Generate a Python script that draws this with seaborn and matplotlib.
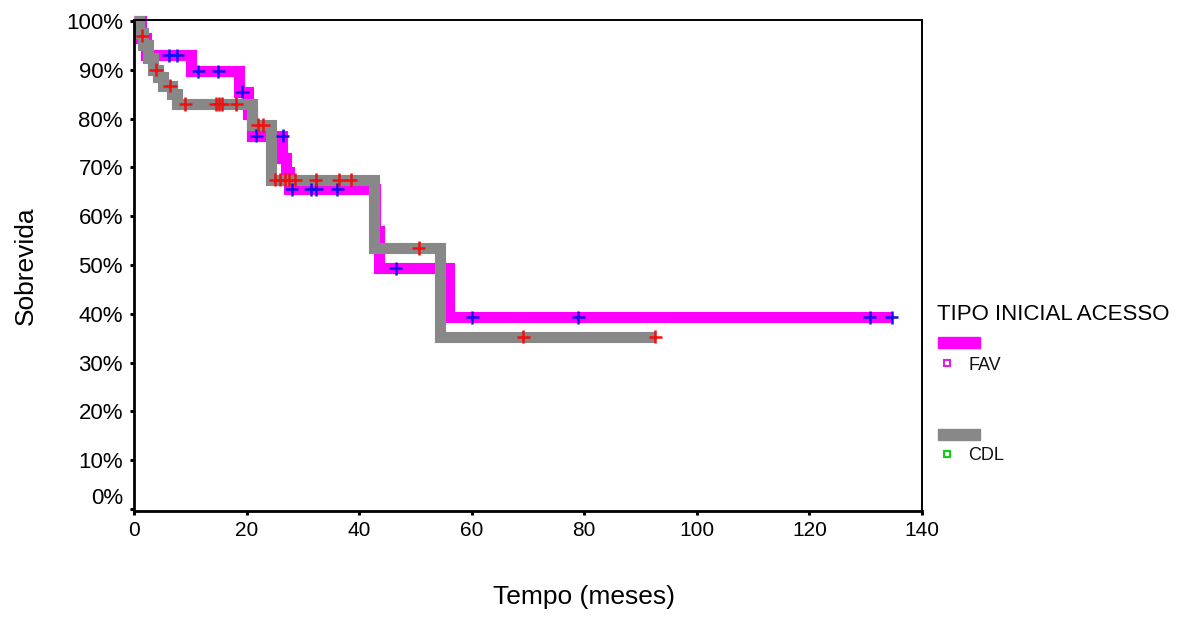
import matplotlib
matplotlib.use("Agg")
import matplotlib.pyplot as plt
from matplotlib.patches import Rectangle
from matplotlib.lines import Line2D
from matplotlib.ticker import PercentFormatter
import seaborn as sns
import pandas as pd

# Kaplan-Meier steps (time in months, survival fraction)
fav_tempo = [0, 1.2, 2.2, 10.2, 18.6, 20.3, 21.0, 26.3, 27.0, 27.6, 42.9, 43.6, 55.9, 134.7]
fav_sobrev = [1.0, 0.965, 0.93, 0.897, 0.855, 0.81, 0.765, 0.72, 0.69, 0.655, 0.57, 0.493, 0.393, 0.393]

cdl_tempo = [0, 0.8, 1.6, 2.4, 3.3, 4.2, 5.2, 6.8, 7.6, 21.0, 24.4, 42.7, 54.3, 92.6]
cdl_sobrev = [1.0, 0.975, 0.95, 0.925, 0.90, 0.885, 0.867, 0.85, 0.83, 0.787, 0.675, 0.535, 0.353, 0.353]

# censored observations
fav_cens_t = [6.2, 7.7, 11.4, 15.0, 19.2, 21.7, 26.4, 28.0, 31.4, 32.4, 36.1, 46.5, 60.1, 78.9, 130.7, 134.6]
fav_cens_s = [0.93, 0.93, 0.897, 0.897, 0.855, 0.765, 0.765, 0.655, 0.655, 0.655, 0.655, 0.493, 0.393, 0.393, 0.393, 0.393]

cdl_cens_t = [1.5, 3.9, 6.4, 9.1, 14.5, 15.1, 15.7, 18.2, 22.0, 23.0, 25.1, 26.0, 26.9, 27.6, 28.6, 32.3, 36.4, 38.5, 50.6, 69.2, 92.6]
cdl_cens_s = [0.97, 0.90, 0.867, 0.83, 0.83, 0.83, 0.83, 0.83, 0.787, 0.787, 0.675, 0.675, 0.675, 0.675, 0.675, 0.675, 0.675, 0.675, 0.535, 0.353, 0.353]

grupos = ["FAV", "CDL"]
cores_linha = {"FAV": "#ff00ff", "CDL": "#888888"}
cores_cens = {"FAV": "#1010f0", "CDL": "#f01010"}

curvas = pd.concat([
    pd.DataFrame({"tempo": fav_tempo, "sobrevida": fav_sobrev, "grupo": "FAV"}),
    pd.DataFrame({"tempo": cdl_tempo, "sobrevida": cdl_sobrev, "grupo": "CDL"}),
], ignore_index=True)
censuras = pd.concat([
    pd.DataFrame({"tempo": fav_cens_t, "sobrevida": fav_cens_s, "grupo": "FAV"}),
    pd.DataFrame({"tempo": cdl_cens_t, "sobrevida": cdl_cens_s, "grupo": "CDL"}),
], ignore_index=True)

sns.set_style("white")
plt.rcParams["font.family"] = ["Liberation Sans", "DejaVu Sans"]
plt.rcParams["text.color"] = "black"
plt.rcParams["axes.labelcolor"] = "black"
plt.rcParams["xtick.color"] = "black"
plt.rcParams["ytick.color"] = "black"

fig = plt.figure(figsize=(11.86, 6.17), dpi=100)
ax = fig.add_axes([134 / 1186, 1 - 511 / 617, 788 / 1186, 491 / 617])

sns.lineplot(data=curvas, x="tempo", y="sobrevida", hue="grupo", hue_order=grupos,
             palette=cores_linha, drawstyle="steps-post", linewidth=8, estimator=None,
             errorbar=None, sort=False, legend=False, ax=ax, solid_capstyle="butt",
             solid_joinstyle="miter", clip_on=False)
sns.scatterplot(data=censuras, x="tempo", y="sobrevida", hue="grupo", palette=cores_cens,
                marker="+", s=90, linewidth=1.8, legend=False, ax=ax, zorder=5, clip_on=False)

ax.set_xlim(0, 140)
ax.set_ylim(-0.004, 1.002)
ax.set_xticks(range(0, 141, 20))
ax.set_yticks([i / 10 for i in range(11)])
ax.yaxis.set_major_formatter(PercentFormatter(1.0, decimals=0))
ax.tick_params(axis="y", labelsize=16, length=3, width=2.2, direction="out", pad=5, left=True)
ax.tick_params(axis="x", labelsize=15, length=3, width=2.2, direction="out", pad=4, bottom=True)
for s in ax.spines.values():
    s.set_color("black")
    s.set_linewidth(1.4)
ax.spines["left"].set_linewidth(2)
ax.spines["bottom"].set_linewidth(2)

fig.canvas.draw()
ax.get_yticklabels()[0].set_va("bottom")

ax.set_xlabel("Tempo (meses)", fontsize=19)
ax.xaxis.set_label_coords(0.571, -0.151)
ax.xaxis.label.set_va("top")
ax.set_ylabel("Sobrevida", fontsize=19)
ax.yaxis.set_label_coords(-0.122, 0.5)

# legend, drawn by hand like the SPSS output
W, H = 1186, 617
fig.text(937 / W, 1 - 315 / H, "TIPO INICIAL ACESSO", fontsize=16, va="center", ha="left")
fig.add_artist(Rectangle((938 / W, 1 - 348 / H), 42 / W, 11 / H, color=cores_linha["FAV"], transform=fig.transFigure))
fig.add_artist(Line2D([947 / W], [1 - 363 / H], marker="s", ms=5, mfc="white", mec="#e020e0", mew=1.5,
                      transform=fig.transFigure))
fig.text(968 / W, 1 - 365 / H, "FAV", fontsize=13, va="center", ha="left", color="#111111")
fig.add_artist(Rectangle((938 / W, 1 - 440 / H), 42 / W, 11 / H, color=cores_linha["CDL"], transform=fig.transFigure))
fig.add_artist(Line2D([947 / W], [1 - 454 / H], marker="s", ms=5, mfc="white", mec="#10d010", mew=1.5,
                      transform=fig.transFigure))
fig.text(968 / W, 1 - 456 / H, "CDL", fontsize=13, va="center", ha="left", color="#111111")

fig.savefig("out.png", dpi=100)
